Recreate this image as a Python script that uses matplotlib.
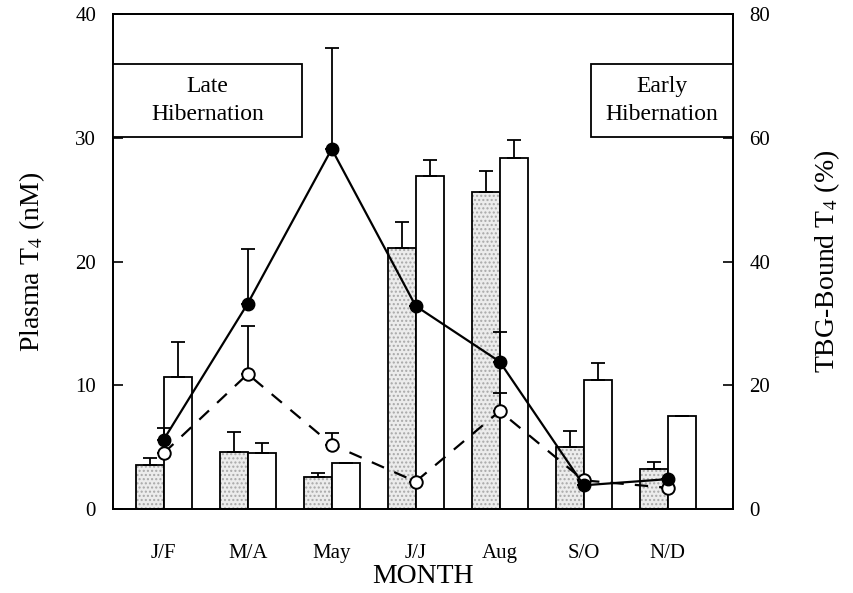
from matplotlib import pyplot as plt
from matplotlib.patches import Rectangle
import numpy as np

plt.rcParams['font.family'] = ['Liberation Serif', 'DejaVu Serif']
plt.rcParams['mathtext.fontset'] = 'stix'

months = ['J/F', 'M/A', 'May', 'J/J', 'Aug', 'S/O', 'N/D']

# plasma T4 (nM), left axis
t4_filled = [5.6, 16.6, 29.1, 16.4, 11.9, 1.9, 2.4]
t4_filled_err = [0.9, 4.4, 8.2, 0.0, 2.4, 0.0, 0.0]
t4_open = [4.5, 10.9, 5.2, 2.2, 7.9, 2.3, 1.7]
t4_open_err = [0.0, 3.9, 0.9, 0.0, 1.5, 0.0, 0.0]

# TBG-bound T4 (%), right axis
tbg_stip = [7.1, 9.2, 5.2, 42.2, 51.2, 10.0, 6.4]
tbg_stip_err = [1.1, 3.2, 0.6, 4.2, 3.4, 2.6, 1.2]
tbg_white = [21.3, 9.0, 7.4, 53.8, 56.8, 20.8, 15.0]
tbg_white_err = [5.7, 1.6, 0.0, 2.6, 2.8, 2.8, 0.0]

x = np.arange(len(months))
w = 0.333

fig = plt.figure(figsize=(8.54, 5.93), dpi=100)
ax = fig.add_axes([0.132, 0.142, 0.726, 0.834])
ax2 = ax.twinx()
ax.set_zorder(ax2.get_zorder() + 1)
ax.patch.set_visible(False)

# bars
ax2.bar(x - w/2, tbg_stip, w, color='#ececec', hatch='....', edgecolor='#a8a8a8', lw=0)
ax2.bar(x - w/2, tbg_stip, w, fill=False, edgecolor='black', lw=1.3)
ax2.bar(x + w/2, tbg_white, w, color='white', edgecolor='black', lw=1.3)
ax2.errorbar(x - w/2, tbg_stip, yerr=[np.zeros(len(x)), tbg_stip_err], fmt='none',
             ecolor='black', elinewidth=1.3, capsize=5, capthick=1.3)
ax2.errorbar(x + w/2, tbg_white, yerr=[np.zeros(len(x)), tbg_white_err], fmt='none',
             ecolor='black', elinewidth=1.3, capsize=5, capthick=1.3)

# lines
ax.errorbar(x, t4_open, yerr=[np.zeros(len(x)), t4_open_err], fmt='none',
            ecolor='black', elinewidth=1.3, capsize=5, capthick=1.3, zorder=3)
ax.plot(x, t4_open, ls=(0, (6, 5)), color='black', lw=1.6, marker='o',
        markersize=9, markerfacecolor='white', markeredgewidth=1.4, zorder=4)
ax.errorbar(x, t4_filled, yerr=[np.zeros(len(x)), t4_filled_err], fmt='none',
            ecolor='black', elinewidth=1.3, capsize=5, capthick=1.3, zorder=5)
ax.plot(x, t4_filled, ls='-', color='black', lw=1.6, marker='o',
        markersize=9, markerfacecolor='black', zorder=6)

ax.set_xlim(-0.607, 6.774)
ax.set_ylim(0, 40)
ax2.set_ylim(0, 80)
ax.set_yticks([0, 10, 20, 30, 40])
ax2.set_yticks([0, 20, 40, 60, 80])
ax.set_xticks(x)
ax.set_xticklabels(months)
ax.tick_params(axis='x', length=0, pad=25, labelsize=15)
ax.tick_params(axis='y', direction='in', length=7, width=1.2, labelsize=15, pad=12)
ax2.tick_params(axis='y', direction='in', length=7, width=1.2, labelsize=15, pad=12)
for a in (ax, ax2):
    for s in a.spines.values():
        s.set_linewidth(1.3)

ax.set_xlabel('MONTH', fontsize=20, labelpad=1)
ax.set_ylabel(r'Plasma T$_4$ (nM)', fontsize=20, labelpad=20)
ax2.set_ylabel(r'TBG-Bound T$_4$ (%)', fontsize=20, labelpad=30)

# period boxes
for x0, x1, label in [(0.0, 0.306, 'Late\nHibernation'), (0.771, 1.0, 'Early\nHibernation')]:
    ax.add_patch(Rectangle((x0, 0.752), x1 - x0, 0.147, transform=ax.transAxes,
                           facecolor='white', edgecolor='black', lw=1.3, zorder=7))
    ax.text((x0 + x1) / 2, 0.826, label, transform=ax.transAxes, ha='center',
            va='center', fontsize=17, linespacing=1.45, zorder=8)

plt.savefig('out.png', dpi=100)
